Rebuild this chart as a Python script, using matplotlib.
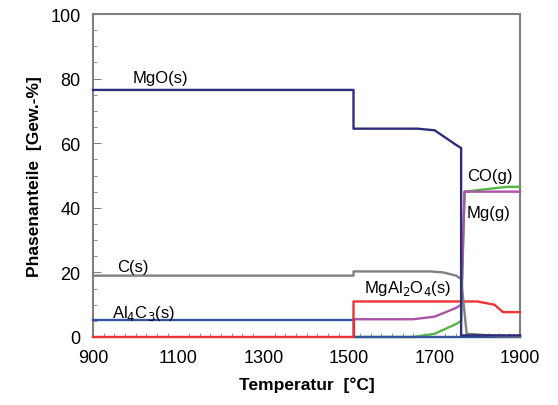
import matplotlib
matplotlib.use('Agg')
import matplotlib.pyplot as plt
from matplotlib.ticker import MultipleLocator

plt.rcParams['font.family'] = ['Liberation Sans', 'DejaVu Sans']

# Temperaturen [°C] und Phasenanteile [Gew.-%]
t_mgo = [900, 1510, 1510, 1660, 1700, 1750, 1762, 1762, 1900]
mgo = [76.5, 76.5, 64.5, 64.5, 64, 59.5, 58.5, 0.5, 0.5]

t_c = [900, 1510, 1510, 1690, 1720, 1750, 1762, 1775, 1850, 1900]
c = [19, 19, 20.3, 20.3, 20, 19, 18, 1, 0.3, 0.2]

t_al4c3 = [900, 1510, 1510, 1900]
al4c3 = [5.2, 5.2, 0, 0]

t_spinel = [900, 1510, 1510, 1760, 1800, 1840, 1860, 1900]
spinel = [0, 0, 11, 11, 11, 10, 7.7, 7.7]

t_mg = [1510, 1650, 1700, 1750, 1762, 1770, 1900]
mg = [5.5, 5.5, 6.3, 9, 10, 45, 45]

t_co = [1510, 1650, 1700, 1750, 1762, 1770, 1870, 1900]
co = [0, 0, 1, 4, 5, 45, 46.5, 46.5]

fig = plt.figure(figsize=(5.58, 4.06), dpi=100)
ax = fig.add_axes([0.1667, 0.1675, 0.7653, 0.7955])

lw = 1.7
ax.plot(t_co, co, color='#55b545', lw=lw, zorder=3, clip_on=False)
ax.plot(t_mg, mg, color='#a855a5', lw=lw, zorder=3, clip_on=False)
ax.plot(t_al4c3, al4c3, color='#3355a0', lw=lw, zorder=3, clip_on=False)
ax.plot(t_spinel, spinel, color='#ee3333', lw=lw, zorder=3, clip_on=False)
ax.plot(t_c, c, color='#808080', lw=lw, zorder=3, clip_on=False)
ax.plot(t_mgo, mgo, color='#2e2d7c', lw=lw, zorder=3, clip_on=False)

ax.text(993, 79, 'MgO(s)', fontsize=12)
ax.text(956, 20.5, 'C(s)', fontsize=12)
ax.text(945, 6.3, 'Al$_4$C$_3$(s)', fontsize=12)
ax.text(1535, 14, 'MgAl$_2$O$_4$(s)', fontsize=12)
ax.text(1776, 48.5, 'CO(g)', fontsize=12)
ax.text(1776, 37, 'Mg(g)', fontsize=12)

ax.set_xlim(900, 1900)
ax.set_ylim(0, 100)
ax.set_xticks([900, 1100, 1300, 1500, 1700, 1900])
ax.set_yticks([0, 20, 40, 60, 80, 100])
ax.xaxis.set_minor_locator(MultipleLocator(25))
ax.yaxis.set_minor_locator(MultipleLocator(5))
ax.tick_params(axis='both', which='both', direction='in', colors='#808080',
               labelcolor='black', labelsize=13)
ax.tick_params(axis='x', which='major', length=0, pad=9)
ax.tick_params(axis='y', which='major', length=6, pad=9)
ax.tick_params(axis='both', which='minor', length=3)
for s in ax.spines.values():
    s.set_color('#808080')
    s.set_linewidth(1.5)

ax.set_xlabel('Temperatur  [°C]', fontsize=12.5, fontweight='bold', labelpad=7)
ax.set_ylabel('Phasenanteile  [Gew.-%]', fontsize=12.5, fontweight='bold', labelpad=6)

plt.savefig('out.png')
